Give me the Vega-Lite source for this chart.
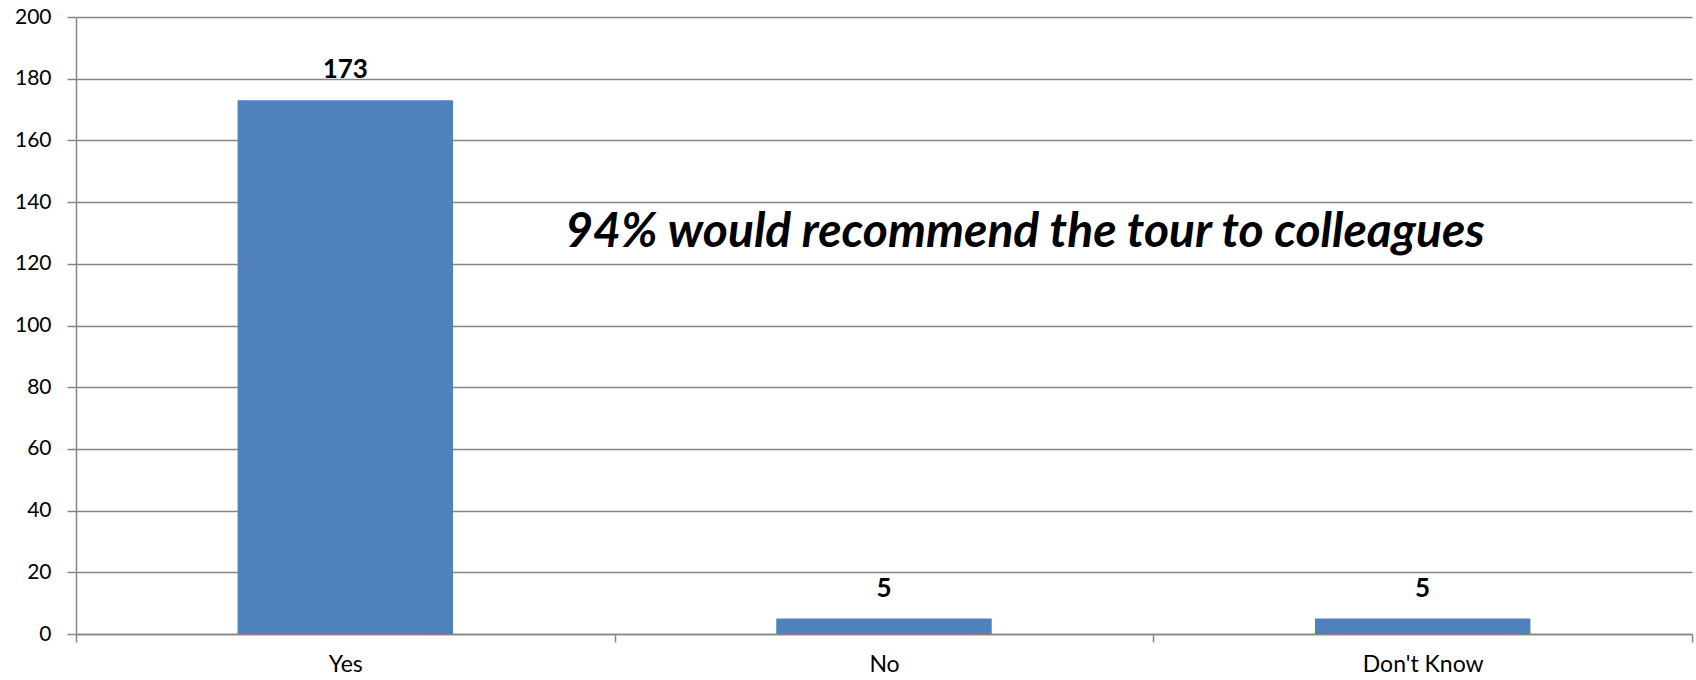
{
  "$schema": "https://vega.github.io/schema/vega-lite/v6.json",
  "width": 1616,
  "height": 617,
  "autosize": {"type": "none"},
  "padding": {"left": 76, "top": 17, "right": 4, "bottom": 46},
  "background": "white",
  "config": {
    "view": {"stroke": null},
    "font": "Lato",
    "axis": {"labelFont": "Lato", "labelColor": "#000000", "domainColor": "#868686", "tickColor": "#868686", "gridColor": "#868686", "domainWidth": 1.5, "tickWidth": 1.5, "gridWidth": 1.5}
  },
  "data": {"values": [
    {"answer": "Yes", "count": 173},
    {"answer": "No", "count": 5},
    {"answer": "Don't Know", "count": 5}
  ]},
  "layer": [
    {
      "mark": {"type": "bar", "color": "#4F81BD", "width": {"band": 0.4}},
      "encoding": {
        "x": {"field": "answer", "type": "nominal", "sort": null,
              "scale": {"paddingInner": 0, "paddingOuter": 0},
              "axis": {"title": null, "labelAngle": 0, "labelFontSize": 23, "tickBand": "extent", "tickSize": 8, "labelPadding": 11, "grid": false}},
        "y": {"field": "count", "type": "quantitative",
              "scale": {"domain": [0, 200], "nice": false},
              "axis": {"title": null, "values": [0, 20, 40, 60, 80, 100, 120, 140, 160, 180, 200], "labelFontSize": 21, "tickSize": 9, "labelPadding": 16, "grid": true}}
      }
    },
    {
      "mark": {"type": "text", "fontWeight": "bold", "fontSize": 26, "baseline": "middle", "dy": -30, "color": "#000000"},
      "encoding": {
        "x": {"field": "answer", "type": "nominal", "sort": null},
        "y": {"field": "count", "type": "quantitative"},
        "text": {"field": "count", "type": "quantitative"}
      }
    },
    {
      "data": {"values": [{"note": "94% would recommend the tour to colleagues"}]},
      "mark": {"type": "text", "fontWeight": "bold", "fontStyle": "italic", "fontSize": 48, "baseline": "middle", "align": "center", "dx": 141, "color": "#000000"},
      "encoding": {
        "x": {"datum": "No"},
        "y": {"datum": 130},
        "text": {"field": "note", "type": "nominal"}
      }
    }
  ]
}
